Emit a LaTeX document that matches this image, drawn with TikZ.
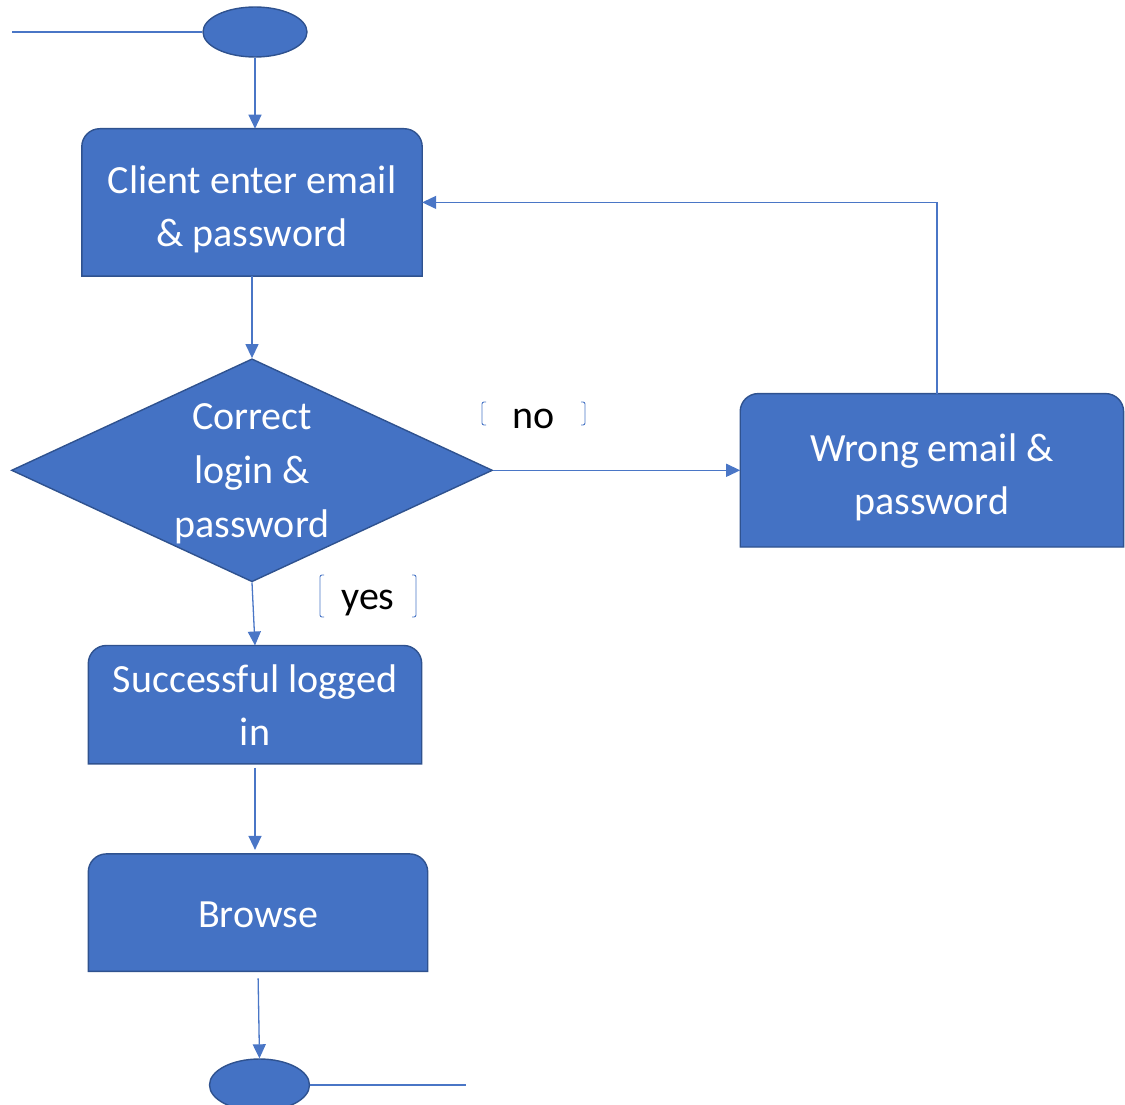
\documentclass[tikz,border=0pt]{standalone}
\usepackage{fontspec}
\setmainfont{Carlito}
\usetikzlibrary{positioning,shapes.geometric,arrows.meta,backgrounds}
\definecolor{flowblue}{HTML}{4472C4}
\definecolor{flowedge}{HTML}{2F528F}
\definecolor{flowline}{HTML}{4A76C6}

\tikzset{
  stepbox/.style={rectangle, inner sep=0pt, align=center, text=white, font=\fontsize{40}{53}\selectfont},
  endpoint/.style={ellipse, draw=flowedge, fill=flowblue, line width=1.4pt, inner sep=0pt},
  decision/.style={diamond, draw=flowedge, fill=flowblue, line width=1.4pt, inner sep=0pt, aspect=2.16, align=center, text=white, font=\fontsize{40}{54}\selectfont},
  plainline/.style={draw=flowline, line width=1.3pt},
  flow/.style={plainline, -{Triangle[length=14pt,width=13pt]}},
  tag/.style={inner sep=0pt, font=\fontsize{40}{48}\selectfont},
  brk/.style={draw=flowline, line width=0.9pt, rounded corners=2pt},
}

% box with rounded top corners, drawn behind the node text
\newcommand{\topround}[1]{%
  \begin{scope}[on background layer]
    \filldraw[draw=flowedge, fill=flowblue, line width=1.4pt]
      (#1.south west) -- ([yshift=-18pt]#1.north west)
      arc[start angle=180, end angle=90, radius=18pt]
      -- ([xshift=-18pt]#1.north east)
      arc[start angle=90, end angle=0, radius=18pt]
      -- (#1.south east) -- cycle;
  \end{scope}}
\newcommand{\lift}[1]{\rule{0pt}{#1}}

\begin{document}
\begin{tikzpicture}[x=1pt, y=1pt, node distance=70pt]
\useasboundingbox (0,0) rectangle (1125,-1105);

\node[endpoint, minimum width=104pt, minimum height=50pt] (start) at (255,-32) {};
\node[stepbox, minimum width=340pt, minimum height=147pt, below=71pt of start, xshift=-3pt] (client) {\lift{41pt}Client enter email\\ \& password};
\node[decision, minimum width=481pt, minimum height=223pt, below=82pt of client] (check) {\lift{33pt}Correct\\ login \&\\ password};
\node[stepbox, minimum width=383pt, minimum height=153pt, right=247pt of check] (wrong) {\lift{42pt}Wrong email \&\\ password};
\node[stepbox, minimum width=333pt, minimum height=118pt, below=63pt of check, xshift=3pt] (success) {Successful logged\\ in};
\node[stepbox, minimum width=339pt, minimum height=117pt, below=90pt of success, xshift=3pt] (browse) {\lift{30pt}Browse};
\node[endpoint, minimum width=100pt, minimum height=52pt, below=87pt of browse, xshift=1.5pt] (finish) {};

\foreach \n in {client,wrong,success,browse} {\topround{\n}}

% labels on the decision branches, with their thin brackets
\node[tag] (no) at (533.5,-418.5) {no};
\node[tag] (yes) at (368,-603) {yes};
\foreach \t/\dy/\hw/\hh in {no/5/51.5/11.5, yes/7/48/21} {
  \draw[brk] ([shift={({4-\hw},{\dy+\hh})}]\t.center) -- ++(-4,0) -- ++(0,{-2*\hh}) -- ++(4,0);
  \draw[brk] ([shift={({\hw-4},{\dy+\hh})}]\t.center) -- ++(4,0) -- ++(0,{-2*\hh}) -- ++(-4,0);
}

\coordinate (inlet) at (12,-32);
\coordinate (outlet) at (466,-1082);

\draw[plainline] (inlet) -- (start.west);
\draw[flow] (start.south) -- (start.south |- client.north);
\draw[flow] (client.south) -- (check.north);
\draw[flow] (check.east) -- (wrong.west);
\draw[flow] ([xshift=5pt]wrong.north) |- (client.east);
\draw[flow] (check.south) -- (success.north);
\draw[flow, shorten <=4pt, shorten >=4pt] (success.south) -- (success.south |- browse.north);
\draw[flow, shorten <=7pt] (browse.south) -- (finish.north);
\draw[plainline] (finish.east) -- (finish.east -| outlet);
\end{tikzpicture}
\end{document}
